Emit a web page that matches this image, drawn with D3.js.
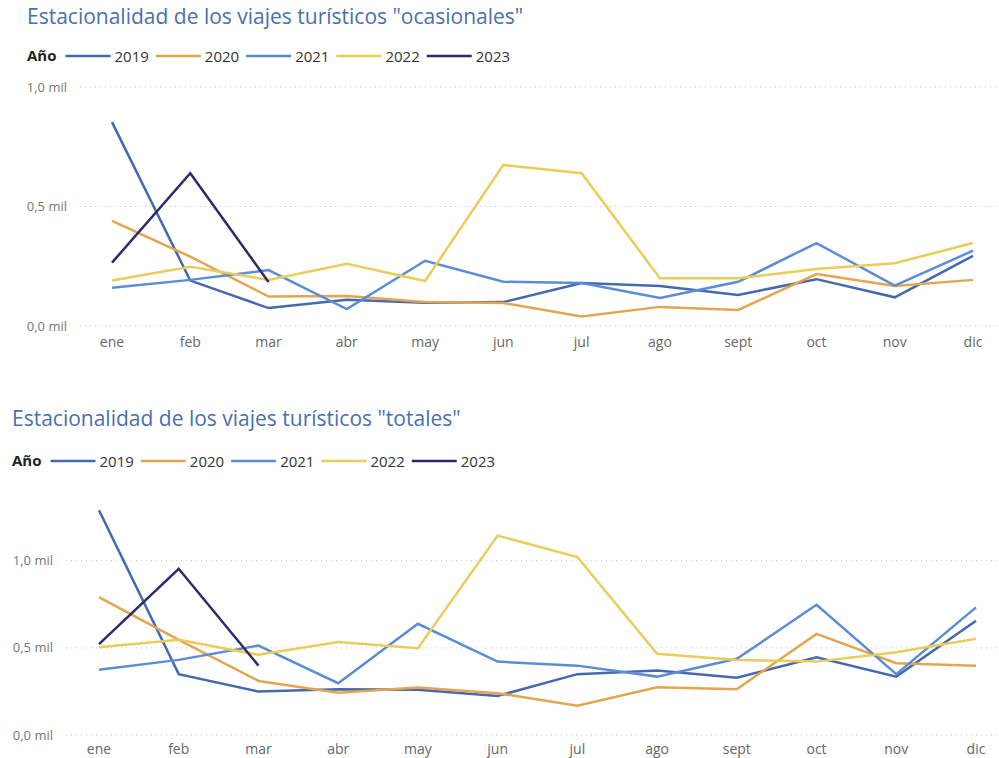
<!DOCTYPE html>
<html lang="es">
<head>
    <meta charset="UTF-8">
    <title>Estacionalidad de los viajes turísticos</title>
    <script src="https://d3js.org/d3.v7.min.js"></script>
    <style>
        body {
            margin: 0;
            background: #fff;
            font-family: 'Open Sans', 'Noto Sans', sans-serif;
        }
        svg { display: block; }
    </style>
</head>
<body>
<svg id="chart" width="999" height="758"></svg>
<script>
    // Meses y años
    const meses = ["ene", "feb", "mar", "abr", "may", "jun", "jul", "ago", "sept", "oct", "nov", "dic"];
    const anios = ["2019", "2020", "2021", "2022", "2023"];
    const colores = ["#4668ae", "#e2a650", "#5b8dd4", "#e9cd5a", "#2d2a6b"];

    // Viajes "ocasionales" (miles)
    const ocasionales2019 = [0.853, 0.19, 0.075, 0.11, 0.097, 0.10, 0.18, 0.167, 0.13, 0.196, 0.12, 0.293];
    const ocasionales2020 = [0.44, 0.29, 0.123, 0.125, 0.10, 0.096, 0.04, 0.08, 0.067, 0.217, 0.167, 0.193];
    const ocasionales2021 = [0.16, 0.193, 0.234, 0.071, 0.273, 0.185, 0.18, 0.117, 0.185, 0.347, 0.169, 0.315];
    const ocasionales2022 = [0.19, 0.248, 0.193, 0.26, 0.188, 0.674, 0.639, 0.20, 0.20, 0.238, 0.263, 0.347];
    const ocasionales2023 = [0.265, 0.639, 0.184];

    // Viajes "totales" (miles)
    const totales2019 = [1.289, 0.349, 0.249, 0.263, 0.259, 0.224, 0.349, 0.37, 0.328, 0.446, 0.335, 0.655];
    const totales2020 = [0.791, 0.546, 0.31, 0.243, 0.272, 0.24, 0.168, 0.274, 0.263, 0.58, 0.412, 0.398];
    const totales2021 = [0.374, 0.431, 0.513, 0.297, 0.638, 0.421, 0.398, 0.335, 0.437, 0.747, 0.349, 0.732];
    const totales2022 = [0.504, 0.546, 0.46, 0.533, 0.498, 1.144, 1.021, 0.466, 0.431, 0.421, 0.475, 0.552];
    const totales2023 = [0.521, 0.954, 0.398];

    const yTicks = [0, 0.5, 1.0];

    const svg = d3.select("#chart");
    const fmt = v => d3.format(".1f")(v).replace(".", ",") + " mil";

    function drawPanel(cfg) {
        const g = svg.append("g");

        // Titulo
        g.append("text")
            .attr("x", cfg.left)
            .attr("y", cfg.titleY)
            .attr("font-size", 21)
            .attr("fill", "#4a6fae")
            .text(cfg.title);

        // Leyenda
        const leg = g.append("g").attr("transform", `translate(${cfg.left},${cfg.legendY})`);
        const lbl = leg.append("text")
            .attr("y", 5)
            .attr("font-size", 15)
            .attr("font-weight", "bold")
            .attr("fill", "#222")
            .text("Año");
        let lx = lbl.node().getComputedTextLength() + 9;
        anios.forEach((a, i) => {
            leg.append("line")
                .attr("x1", lx).attr("x2", lx + 45)
                .attr("y1", 0).attr("y2", 0)
                .attr("stroke", colores[i])
                .attr("stroke-width", 2.5);
            const t = leg.append("text")
                .attr("x", lx + 49)
                .attr("y", 5.5)
                .attr("font-size", 15)
                .attr("fill", "#333")
                .text(a);
            lx += 49 + t.node().getComputedTextLength() + 7;
        });

        const x = d3.scalePoint().domain(meses).range([cfg.x0, cfg.x1]);
        const y = d3.scaleLinear().domain([0, 1]).range([cfg.y0, cfg.y1]);

        // Rejilla y etiquetas del eje Y
        yTicks.forEach(t => {
            g.append("line")
                .attr("x1", cfg.gridX).attr("x2", 999)
                .attr("y1", y(t)).attr("y2", y(t))
                .attr("stroke", "#c8c8c8")
                .attr("stroke-width", 1)
                .attr("stroke-dasharray", "1,4");
            g.append("text")
                .attr("x", cfg.gridX - 13)
                .attr("y", y(t) + 4.5)
                .attr("text-anchor", "end")
                .attr("font-size", 13)
                .attr("fill", "#777")
                .text(fmt(t));
        });

        // Eje X
        meses.forEach(m => {
            g.append("text")
                .attr("x", x(m))
                .attr("y", cfg.y0 + cfg.labelDy)
                .attr("text-anchor", "middle")
                .attr("font-size", 14)
                .attr("fill", "#666")
                .text(m);
        });

        const line = d3.line()
            .x((d, i) => x(meses[i]))
            .y(d => y(d));

        cfg.series.forEach((s, i) => {
            g.append("path")
                .datum(s)
                .attr("fill", "none")
                .attr("stroke", colores[i])
                .attr("stroke-width", 2.5)
                .attr("d", line);
        });
    }

    drawPanel({
        title: 'Estacionalidad de los viajes turísticos "ocasionales"',
        left: 27, titleY: 24, legendY: 56,
        gridX: 80, x0: 112, x1: 973, y0: 326, y1: 87, labelDy: 21,
        series: [ocasionales2019, ocasionales2020, ocasionales2021, ocasionales2022, ocasionales2023]
    });

    drawPanel({
        title: 'Estacionalidad de los viajes turísticos "totales"',
        left: 12, titleY: 426, legendY: 461,
        gridX: 66, x0: 99, x1: 976, y0: 735, y1: 560.7, labelDy: 19,
        series: [totales2019, totales2020, totales2021, totales2022, totales2023]
    });
</script>
</body>
</html>
